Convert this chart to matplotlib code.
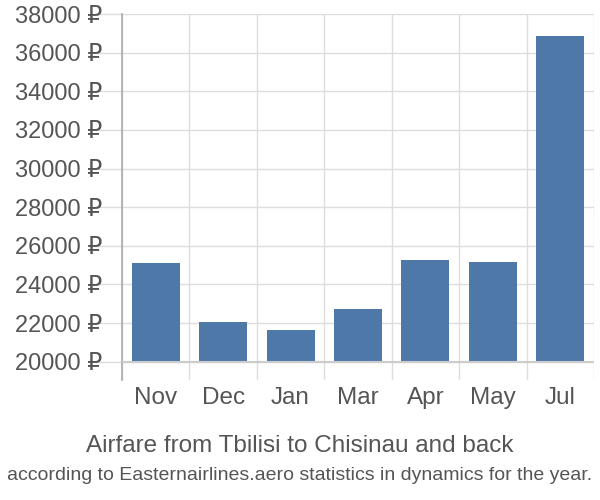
import matplotlib
matplotlib.use("Agg")
import matplotlib.pyplot as plt

plt.rcParams['font.family'] = ['Liberation Sans', 'DejaVu Sans']

months = ["Nov", "Dec", "Jan", "Mar", "Apr", "May", "Jul"]
prices = [25120, 22030, 21650, 22740, 25280, 25160, 36870]
yticks = [20000, 22000, 24000, 26000, 28000, 30000, 32000, 34000, 36000, 38000]
base = 20000

fig = plt.figure(figsize=(6, 5), dpi=100)
ax = fig.add_axes([122/600, 1-380/500, (594-122)/600, (380-14)/500])

x = list(range(len(months)))
ax.bar(x, [p - base for p in prices], bottom=base, width=0.71, color="#4d78a8", zorder=3)

ax.set_xlim(-0.5, len(months) - 0.5)
ax.set_ylim(19050, 38000)

ax.set_yticks(yticks)
ax.set_yticklabels([f"{v} ₽" for v in yticks], fontsize=17, color="#555555")
ax.set_xticks(x)
ax.set_xticklabels(months, fontsize=17.5, color="#555555")

ax.tick_params(axis='y', length=20, color="#dddddd", width=1, pad=-6)
ax.tick_params(axis='x', length=0, pad=5)

for v in yticks:
    ax.axhline(v, color="#dddddd", lw=1, zorder=1)
for b in range(len(months) + 1):
    ax.axvline(b - 0.5, color="#dddddd", lw=1, zorder=1)
ax.axhline(base, color="#cccccc", lw=1.5, zorder=4)

for s in ["top", "right", "bottom"]:
    ax.spines[s].set_visible(False)
ax.spines["left"].set_color("#aaaaaa")
ax.spines["left"].set_linewidth(1.2)

fig.text(0.5, 1-446/500, "Airfare from Tbilisi to Chisinau and back", ha="center", va="center",
         fontsize=17.5, color="#555555")
fig.text(0.5, 1-475/500, "according to Easternairlines.aero statistics in dynamics for the year.",
         ha="center", va="center", fontsize=14, color="#555555")

fig.savefig("out.png", dpi=100)
